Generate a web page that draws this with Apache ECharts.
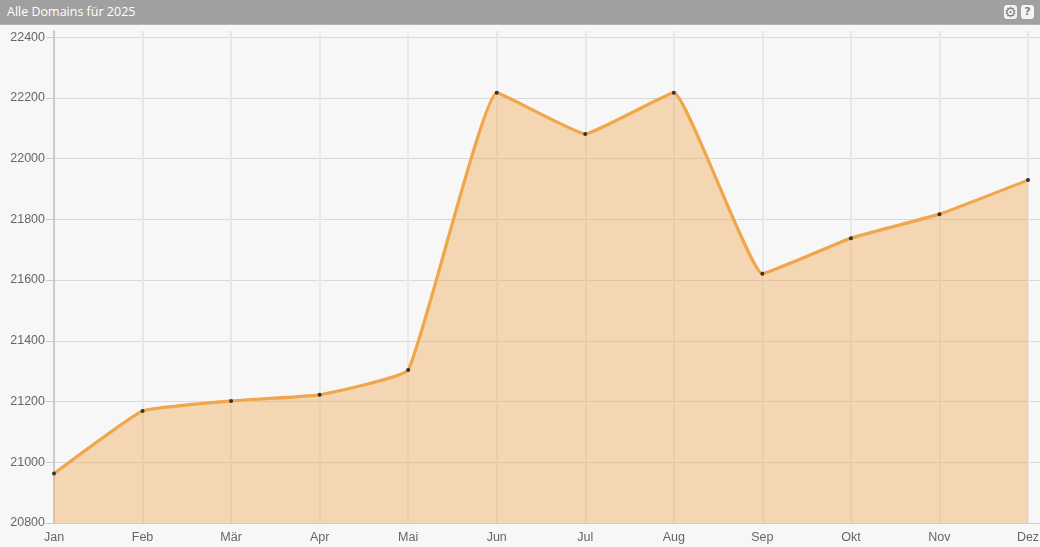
<!DOCTYPE html>
<html>
<head>
<meta charset="utf-8">
<title>Alle Domains für 2025</title>
<script src="https://cdn.jsdelivr.net/npm/echarts@6/dist/echarts.min.js"></script>
<style>
  html, body { margin: 0; padding: 0; background: #f7f7f7; }
  #wrap { position: relative; width: 1040px; height: 547px; overflow: hidden; }
  #chart { position: absolute; left: 0; top: 0; width: 1040px; height: 547px; }
  #head {
    position: absolute; left: 0; top: 0; width: 1040px; height: 24px;
    background: #a0a0a0; border-bottom: 1px solid #b4b4b4;
    color: #fff; font: 12.5px/24px "Open Sans", sans-serif;
    text-indent: 7px;
  }
  .btn {
    position: absolute; top: 5px; width: 13px; height: 14px;
    background: #f4f4f4; border-radius: 3px; color: #808080;
    font: bold 11px/14px "DejaVu Sans", sans-serif; text-align: center; text-indent: 0;
  }
  .gear { font: normal 14px/14px "DejaVu Sans", sans-serif; }
</style>
</head>
<body>
<div id="wrap">
  <div id="chart"></div>
  <div id="head">Alle Domains für 2025
    <span class="btn gear" style="left:1004px">⚙</span>
    <span class="btn" style="left:1021px">?</span>
  </div>
</div>
<script>
var months = ['Jan', 'Feb', 'Mär', 'Apr', 'Mai', 'Jun', 'Jul', 'Aug', 'Sep', 'Okt', 'Nov', 'Dez'];
var domains = [20963, 21169, 21202, 21222, 21304, 22217, 22081, 22217, 21621, 21738, 21817, 21929];
var yMin = 20800;
var yMax = 22420;

var chart = echarts.init(document.getElementById('chart'));

chart.setOption({
  animation: false,
  backgroundColor: '#f7f7f7',
  // second grid only carries the horizontal lines on past Dez
  grid: [
    { left: 54, right: 12, top: 31, bottom: 24, outerBoundsMode: 'none' },
    { left: 1028, right: 0, top: 31, bottom: 24, outerBoundsMode: 'none' }
  ],
  xAxis: [{
    type: 'category',
    data: months,
    boundaryGap: false,
    axisLine: { show: true, onZero: false, lineStyle: { color: '#cccccc', width: 1 } },
    axisTick: { show: false },
    axisLabel: {
      color: '#666666',
      fontFamily: 'Liberation Sans',
      fontSize: 12.5,
      margin: 8,
      interval: 0
    },
    splitLine: { show: true, interval: 0, lineStyle: { color: '#e8e8e8', width: 2 } }
  }, {
    gridIndex: 1,
    type: 'value',
    min: 0,
    max: 1,
    axisLine: { show: true, onZero: false, lineStyle: { color: '#cccccc', width: 1 } },
    axisTick: { show: false },
    axisLabel: { show: false },
    splitLine: { show: false }
  }],
  yAxis: [{
    type: 'value',
    min: yMin,
    max: yMax,
    interval: 200,
    axisLine: { show: true, onZero: false, lineStyle: { color: '#cccccc', width: 2 } },
    axisTick: { show: true, length: 8, lineStyle: { color: '#cccccc' } },
    axisLabel: {
      color: '#666666',
      fontFamily: 'Liberation Sans',
      fontSize: 12.5,
      margin: 9,
      showMaxLabel: false,
      formatter: function (v) { return v % 200 === 0 ? String(v) : ''; }
    },
    splitLine: { show: true, showMaxLine: false, lineStyle: { color: '#d9d9d9', width: 1 } }
  }, {
    gridIndex: 1,
    type: 'value',
    min: yMin,
    max: yMax,
    interval: 200,
    axisLine: { show: false },
    axisTick: { show: false },
    axisLabel: { show: false },
    splitLine: { show: true, showMaxLine: false, lineStyle: { color: '#d9d9d9', width: 1 } }
  }],
  series: [{
    type: 'line',
    data: domains,
    smooth: 0.1,
    symbol: 'circle',
    symbolSize: 4,
    itemStyle: { color: '#333333', borderWidth: 0 },
    lineStyle: { color: '#f0a64a', width: 3.2 },
    areaStyle: { color: '#f0a64a', opacity: 0.4 },
    z: 3
  }]
});
</script>
</body>
</html>
